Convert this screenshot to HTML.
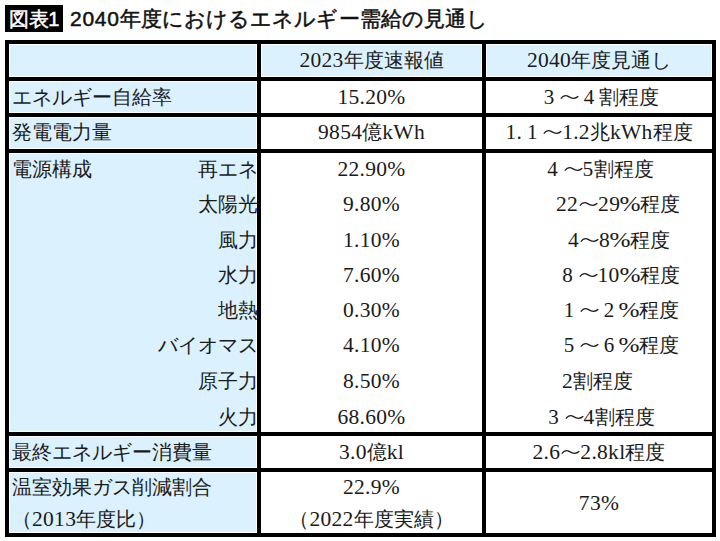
<!DOCTYPE html>
<html lang="ja"><head><meta charset="utf-8"><style>
html,body{margin:0;padding:0;background:#fff;width:720px;height:541px;overflow:hidden;position:relative}
.b{position:absolute}
.t{position:absolute;height:30px;line-height:30px;white-space:nowrap;color:#1a1a1a;font-family:"Liberation Serif",serif}
.n{font-size:21.5px;letter-spacing:0.3px}
.tl{display:inline-block;vertical-align:2px}
.fp{display:inline-block;width:20px;text-align:center;font-size:21px;transform:scaleX(1.2)}
.fw{display:inline-block;width:20px;text-align:center;font-size:21px}
.h{position:absolute;height:30px;line-height:30px;white-space:nowrap;color:#111;font-family:"Liberation Sans",sans-serif;font-size:21px;font-weight:normal;-webkit-text-stroke:0.5px #111}
</style></head><body>
<div class="b" style="left:5px;top:5px;width:58px;height:27px;background:#000"></div><div class="h" style="left:5px;top:4px;width:58px;text-align:center;color:#fff;-webkit-text-stroke:0.5px #fff;font-size:20px;letter-spacing:-0.5px">図表1</div><div class="h" style="left:70px;top:3.5px;letter-spacing:0.1px"><span style="letter-spacing:0.7px">2040</span>年度におけるエネルギー需給の見通し</div>
<div class="b" style="left:5px;top:40px;width:711px;height:497px;background:#000"></div><div class="b" style="left:9px;top:44px;width:248px;height:33px;background:#fff"></div><div class="b" style="left:10px;top:45px;width:246px;height:31px;background:#dcf1fe"></div><div class="b" style="left:261px;top:44px;width:221px;height:33px;background:#fff"></div><div class="b" style="left:262px;top:45px;width:219px;height:31px;background:#dcf1fe"></div><div class="b" style="left:486px;top:44px;width:226px;height:33px;background:#fff"></div><div class="b" style="left:487px;top:45px;width:224px;height:31px;background:#dcf1fe"></div><div class="b" style="left:9px;top:81px;width:248px;height:32px;background:#fff"></div><div class="b" style="left:10px;top:82px;width:246px;height:30px;background:#dcf1fe"></div><div class="b" style="left:261px;top:81px;width:221px;height:32px;background:#fff"></div><div class="b" style="left:486px;top:81px;width:226px;height:32px;background:#fff"></div><div class="b" style="left:9px;top:117px;width:248px;height:32px;background:#fff"></div><div class="b" style="left:10px;top:118px;width:246px;height:30px;background:#dcf1fe"></div><div class="b" style="left:261px;top:117px;width:221px;height:32px;background:#fff"></div><div class="b" style="left:486px;top:117px;width:226px;height:32px;background:#fff"></div><div class="b" style="left:9px;top:153px;width:248px;height:279px;background:#fff"></div><div class="b" style="left:10px;top:154px;width:246px;height:277px;background:#dcf1fe"></div><div class="b" style="left:261px;top:153px;width:221px;height:279px;background:#fff"></div><div class="b" style="left:486px;top:153px;width:226px;height:279px;background:#fff"></div><div class="b" style="left:9px;top:436px;width:248px;height:32px;background:#fff"></div><div class="b" style="left:10px;top:437px;width:246px;height:30px;background:#dcf1fe"></div><div class="b" style="left:261px;top:436px;width:221px;height:32px;background:#fff"></div><div class="b" style="left:486px;top:436px;width:226px;height:32px;background:#fff"></div><div class="b" style="left:9px;top:472px;width:248px;height:61px;background:#fff"></div><div class="b" style="left:10px;top:473px;width:246px;height:59px;background:#dcf1fe"></div><div class="b" style="left:261px;top:472px;width:221px;height:61px;background:#fff"></div><div class="b" style="left:486px;top:472px;width:226px;height:61px;background:#fff"></div><div class="t" style="left:261px;width:221px;top:45.0px;text-align:center;font-size:20px;"><span class="n">2023</span>年度速報値</div><div class="t" style="left:486px;width:226px;top:45.0px;text-align:center;font-size:20px;"><span class="n">2040</span>年度見通し</div><div class="t" style="left:12px;width:244px;top:81.5px;text-align:left;font-size:20px;">エネルギー自給率</div><div class="t" style="left:261px;width:221px;top:81.5px;text-align:center;font-size:20px;"><span class="n">15.20%</span></div><div class="t" style="left:486px;width:226px;top:81.5px;text-align:center;font-size:20px;"><span class="fw">3</span><svg class="tl" width="20" height="10" viewBox="0 0 20 10"><path d="M1.8,6.6 C4,3.6 6.5,2.6 9.6,4.6 S15.6,7.7 19.3,4.3" fill="none" stroke="#1a1a1a" stroke-width="1.25"/></svg><span class="fw">4</span>割程度</div><div class="t" style="left:12px;width:244px;top:117.0px;text-align:left;font-size:20px;">発電電力量</div><div class="t" style="left:261px;width:221px;top:117.0px;text-align:center;font-size:20px;"><span class="n">9854</span>億<span class="n">kWh</span></div><div class="t" style="left:486px;width:226px;top:117.0px;text-align:center;font-size:20px;"><span class="n">1.</span><span class="fw">1</span><svg class="tl" width="20" height="10" viewBox="0 0 20 10"><path d="M1.8,6.6 C4,3.6 6.5,2.6 9.6,4.6 S15.6,7.7 19.3,4.3" fill="none" stroke="#1a1a1a" stroke-width="1.25"/></svg><span class="n">1.2</span>兆<span class="n">kWh</span>程度</div><div class="t" style="left:12px;width:244px;top:154.3px;text-align:left;font-size:20px;">電源構成</div><div class="t" style="left:9px;width:249px;top:154.3px;text-align:right;font-size:20px;">再エネ</div><div class="t" style="left:261px;width:221px;top:154.3px;text-align:center;font-size:20px;"><span class="n">22.90%</span></div><div class="t" style="left:542.5px;width:169.5px;top:154.3px;text-align:left;font-size:20px;"><span class="fw">4</span><svg class="tl" width="20" height="10" viewBox="0 0 20 10"><path d="M1.8,6.6 C4,3.6 6.5,2.6 9.6,4.6 S15.6,7.7 19.3,4.3" fill="none" stroke="#1a1a1a" stroke-width="1.25"/></svg><span class="n">5</span>割程度</div><div class="t" style="left:9px;width:249px;top:189.2px;text-align:right;font-size:20px;">太陽光</div><div class="t" style="left:261px;width:221px;top:189.2px;text-align:center;font-size:20px;"><span class="n">9.80%</span></div><div class="t" style="left:556px;width:156px;top:189.2px;text-align:left;font-size:20px;"><span class="n">22</span><svg class="tl" width="20" height="10" viewBox="0 0 20 10"><path d="M1.8,6.6 C4,3.6 6.5,2.6 9.6,4.6 S15.6,7.7 19.3,4.3" fill="none" stroke="#1a1a1a" stroke-width="1.25"/></svg><span class="n">29</span><span class="fp">%</span>程度</div><div class="t" style="left:9px;width:249px;top:224.5px;text-align:right;font-size:20px;">風力</div><div class="t" style="left:261px;width:221px;top:224.5px;text-align:center;font-size:20px;"><span class="n">1.10%</span></div><div class="t" style="left:568px;width:144px;top:224.5px;text-align:left;font-size:20px;"><span class="n">4</span><svg class="tl" width="20" height="10" viewBox="0 0 20 10"><path d="M1.8,6.6 C4,3.6 6.5,2.6 9.6,4.6 S15.6,7.7 19.3,4.3" fill="none" stroke="#1a1a1a" stroke-width="1.25"/></svg><span class="n">8</span><span class="fp">%</span>程度</div><div class="t" style="left:9px;width:249px;top:259.8px;text-align:right;font-size:20px;">水力</div><div class="t" style="left:261px;width:221px;top:259.8px;text-align:center;font-size:20px;"><span class="n">7.60%</span></div><div class="t" style="left:557.5px;width:154.5px;top:259.8px;text-align:left;font-size:20px;"><span class="fw">8</span><svg class="tl" width="20" height="10" viewBox="0 0 20 10"><path d="M1.8,6.6 C4,3.6 6.5,2.6 9.6,4.6 S15.6,7.7 19.3,4.3" fill="none" stroke="#1a1a1a" stroke-width="1.25"/></svg><span class="n">10</span><span class="fp">%</span>程度</div><div class="t" style="left:9px;width:249px;top:294.5px;text-align:right;font-size:20px;">地熱</div><div class="t" style="left:261px;width:221px;top:294.5px;text-align:center;font-size:20px;"><span class="n">0.30%</span></div><div class="t" style="left:559px;width:153px;top:294.5px;text-align:left;font-size:20px;"><span class="fw">1</span><svg class="tl" width="20" height="10" viewBox="0 0 20 10"><path d="M1.8,6.6 C4,3.6 6.5,2.6 9.6,4.6 S15.6,7.7 19.3,4.3" fill="none" stroke="#1a1a1a" stroke-width="1.25"/></svg><span class="fw">2</span><span class="fp">%</span>程度</div><div class="t" style="left:9px;width:249px;top:329.5px;text-align:right;font-size:20px;">バイオマス</div><div class="t" style="left:261px;width:221px;top:329.5px;text-align:center;font-size:20px;"><span class="n">4.10%</span></div><div class="t" style="left:559px;width:153px;top:329.5px;text-align:left;font-size:20px;"><span class="fw">5</span><svg class="tl" width="20" height="10" viewBox="0 0 20 10"><path d="M1.8,6.6 C4,3.6 6.5,2.6 9.6,4.6 S15.6,7.7 19.3,4.3" fill="none" stroke="#1a1a1a" stroke-width="1.25"/></svg><span class="fw">6</span><span class="fp">%</span>程度</div><div class="t" style="left:9px;width:249px;top:365.5px;text-align:right;font-size:20px;">原子力</div><div class="t" style="left:261px;width:221px;top:365.5px;text-align:center;font-size:20px;"><span class="n">8.50%</span></div><div class="t" style="left:562px;width:150px;top:365.5px;text-align:left;font-size:20px;"><span class="n">2</span>割程度</div><div class="t" style="left:9px;width:249px;top:402.2px;text-align:right;font-size:20px;">火力</div><div class="t" style="left:261px;width:221px;top:402.2px;text-align:center;font-size:20px;"><span class="n">68.60%</span></div><div class="t" style="left:543.5px;width:168.5px;top:402.2px;text-align:left;font-size:20px;"><span class="fw">3</span><svg class="tl" width="20" height="10" viewBox="0 0 20 10"><path d="M1.8,6.6 C4,3.6 6.5,2.6 9.6,4.6 S15.6,7.7 19.3,4.3" fill="none" stroke="#1a1a1a" stroke-width="1.25"/></svg><span class="n">4</span>割程度</div><div class="t" style="left:12px;width:244px;top:436.5px;text-align:left;font-size:20px;">最終エネルギー消費量</div><div class="t" style="left:261px;width:221px;top:436.5px;text-align:center;font-size:20px;"><span class="n">3.0</span>億<span class="n">kl</span></div><div class="t" style="left:486px;width:226px;top:436.5px;text-align:center;font-size:20px;"><span class="n">2.6</span><svg class="tl" width="20" height="10" viewBox="0 0 20 10"><path d="M1.8,6.6 C4,3.6 6.5,2.6 9.6,4.6 S15.6,7.7 19.3,4.3" fill="none" stroke="#1a1a1a" stroke-width="1.25"/></svg><span class="n">2.8kl</span>程度</div><div class="t" style="left:12px;width:244px;top:471.5px;text-align:left;font-size:20px;">温室効果ガス削減割合</div><div class="t" style="left:12px;width:244px;top:503.5px;text-align:left;font-size:20px;">（<span class="n">2013</span>年度比）</div><div class="t" style="left:261px;width:221px;top:471.5px;text-align:center;font-size:20px;"><span class="n">22.9%</span></div><div class="t" style="left:261px;width:221px;top:503.5px;text-align:center;font-size:20px;">（<span class="n">2022</span>年度実績）</div><div class="t" style="left:486px;width:226px;top:488.0px;text-align:center;font-size:20px;"><span class="n">73%</span></div>
</body></html>
